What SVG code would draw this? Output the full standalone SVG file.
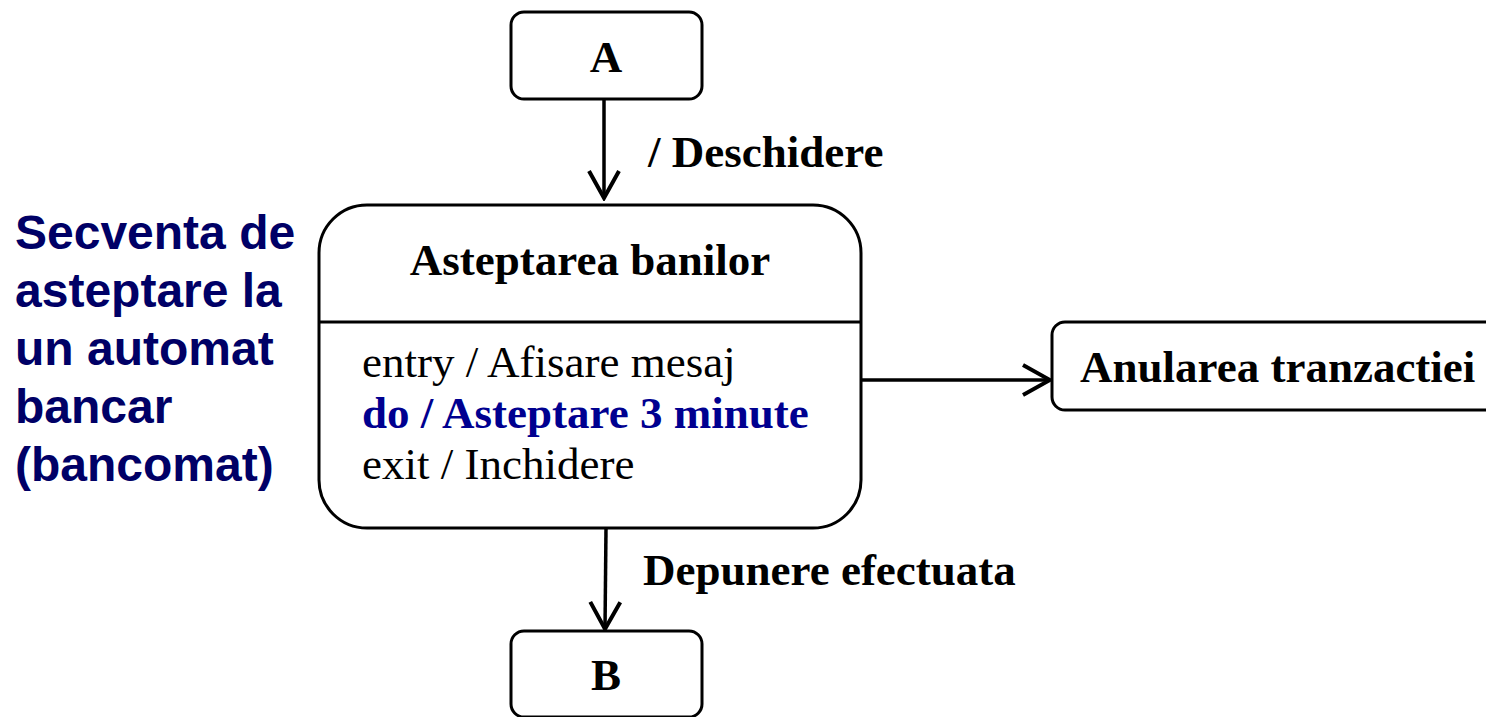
<svg xmlns="http://www.w3.org/2000/svg" width="1486" height="717" viewBox="0 0 1486 717">
  <style>
    .state { fill: #ffffff; stroke: #000000; stroke-width: 3; }
    .serif { font-family: "Liberation Serif", "Times New Roman", serif; font-size: 45px; fill: #000000; }
    .bold { font-weight: bold; }
    .conn { stroke: #000000; stroke-width: 3.5; fill: none; }
    .divider { stroke: #000000; stroke-width: 3; }
    .note { font-family: "Liberation Sans", Arial, sans-serif; font-size: 48px; font-weight: bold; fill: #000066; }
    .activity { fill: #000090; }
  </style>
  <defs>
    <marker id="open-arrow" markerUnits="userSpaceOnUse" viewBox="0 0 32 34" refX="29" refY="17" markerWidth="32" markerHeight="34" orient="auto">
      <path d="M2,2 L29,17 L2,32" fill="none" stroke="#000000" stroke-width="4" stroke-linejoin="miter"/>
    </marker>
  </defs>

  <rect width="1486" height="717" fill="#ffffff"/>

  <!-- description of the state machine -->
  <g id="caption" class="note">
    <text x="15" y="249">Secventa de</text>
    <text x="15" y="307">asteptare la</text>
    <text x="15" y="365">un automat</text>
    <text x="15" y="423">bancar</text>
    <text x="15" y="481">(bancomat)</text>
  </g>

  <!-- transitions -->
  <g id="connectors">
    <line class="conn" x1="604" y1="99" x2="604" y2="198" marker-end="url(#open-arrow)"/>
    <text class="serif bold" x="648" y="167">/ Deschidere</text>
    <line class="conn" x1="861" y1="380" x2="1050" y2="380" marker-end="url(#open-arrow)"/>
    <line class="conn" x1="606" y1="528" x2="605" y2="629" marker-end="url(#open-arrow)"/>
    <text class="serif bold" x="643" y="585">Depunere efectuata</text>
  </g>

  <g id="state-a">
    <rect class="state" x="511" y="12" width="191" height="87" rx="13"/>
    <text class="serif bold" x="606" y="72" text-anchor="middle">A</text>
  </g>

  <g id="state-asteptarea">
    <rect class="state" x="319" y="205" width="542" height="323" rx="48"/>
    <line class="divider" x1="319" y1="322" x2="861" y2="322"/>
    <text class="serif bold" x="590" y="275" text-anchor="middle">Asteptarea banilor</text>
    <text class="serif" x="362" y="377">entry / Afisare mesaj</text>
    <text class="serif bold activity" x="362" y="428">do / Asteptare 3 minute</text>
    <text class="serif" x="362" y="479">exit / Inchidere</text>
  </g>

  <g id="state-anulare">
    <rect class="state" x="1052" y="322" width="450" height="88" rx="13"/>
    <text class="serif bold" x="1080" y="382">Anularea tranzactiei</text>
  </g>

  <g id="state-b">
    <rect class="state" x="511" y="631" width="191" height="86" rx="13"/>
    <text class="serif bold" x="606" y="690" text-anchor="middle">B</text>
  </g>
</svg>
